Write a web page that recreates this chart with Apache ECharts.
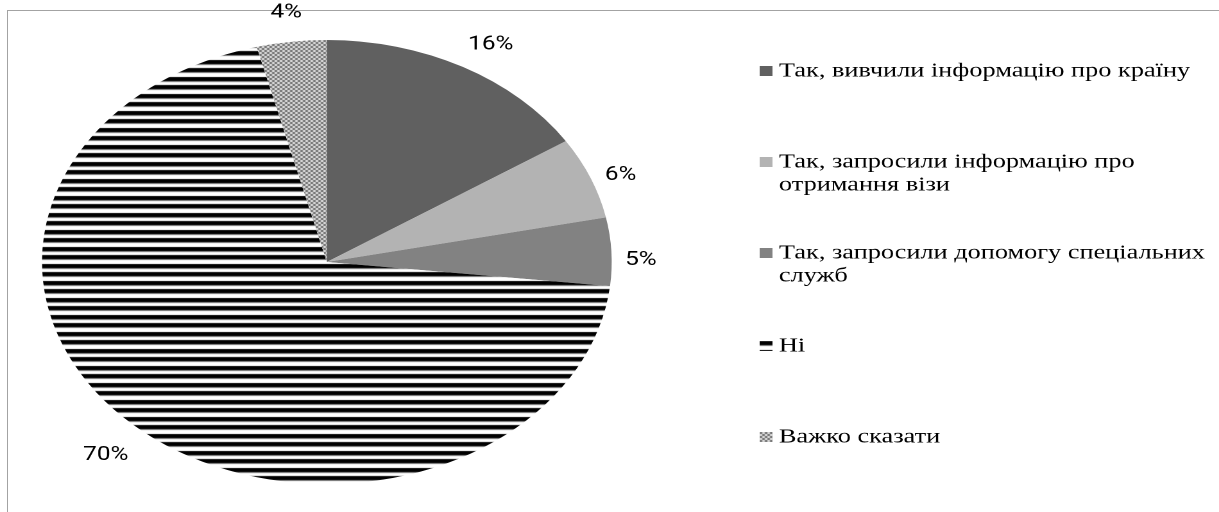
<!DOCTYPE html>
<html><head><meta charset="utf-8">
<script src="https://cdn.jsdelivr.net/npm/echarts@6/dist/echarts.min.js"></script>
<style>
html,body{margin:0;padding:0;background:#fff;width:1219px;height:512px;overflow:hidden;}
#frame{position:absolute;left:7px;top:10px;width:1240px;height:540px;border:1px solid #a3a3a3;}
#chart{position:absolute;left:0;top:0;width:950px;height:512px;transform:scaleX(1.2832);transform-origin:0 0;}
</style></head><body>
<div id="frame"></div><div id="chart"></div>
<script>
// ---- data ----
const categories = [
  'Так, вивчили інформацію про країну',
  'Так, запросили інформацію про\nотримання візи',
  'Так, запросили допомогу спеціальних\nслужб',
  'Ні',
  'Важко сказати'
];
const values = [16, 6, 5, 70, 4];

// ---- styles / layout ----
function stripePattern() {
  const c = document.createElement('canvas'); c.width = 4; c.height = 17;
  const g = c.getContext('2d');
  g.fillStyle = '#fff'; g.fillRect(0, 0, 4, 17);
  g.fillStyle = '#000'; g.fillRect(0, 0, 4, 4); g.fillRect(0, 9, 4, 4);
  g.fillStyle = '#808080'; g.fillRect(0, 4, 4, 1); g.fillRect(0, 13, 4, 1);
  return { image: c, repeat: 'repeat' };
}
function checkPattern() {
  const c = document.createElement('canvas'); c.width = 4; c.height = 4;
  const g = c.getContext('2d');
  g.fillStyle = '#e4e4e4'; g.fillRect(0, 0, 4, 4);
  g.fillStyle = '#6a6a6a'; g.fillRect(0, 0, 2, 2); g.fillRect(2, 2, 2, 2);
  return { image: c, repeat: 'repeat' };
}
const fills = ['#606060', '#b3b3b3', '#828282', stripePattern(), checkPattern()];
const center = [254.7, 262];
const R = 222;
const labelFont = '"Liberation Sans Narrow", Roboto, sans-serif';
const legendFont = '"Liberation Serif", "Times New Roman", serif';
const legendCenters = [71, 162, 253, 346, 437];
const lineH = 23;
const labelShift = { 0: [6, 7], 1: [-7, 10], 2: [-10, 10], 3: [-5, 1], 4: [0, 4] };

const chart = echarts.init(document.getElementById('chart'), null, { devicePixelRatio: 2, renderer: 'canvas' });

const legendText = n => (n.indexOf('\n') >= 0 ? '\n' + n : n);
const legends = categories.map((name, i) => {
  const lines = legendText(name).split('\n').length;
  return {
    orient: 'vertical', left: 592, top: legendCenters[i] - lines * lineH / 2,
    padding: 0, itemWidth: 10, itemHeight: 10, selectedMode: false,
    icon: 'rect', data: [name], formatter: legendText,
    textStyle: { fontFamily: legendFont, fontSize: 20.5, color: '#000', lineHeight: lineH }
  };
});

const pieData = categories.map((name, i) => ({ name, value: values[i], itemStyle: { color: fills[i] } }));

chart.setOption({
  animation: false,
  legend: legends,
  series: [
    {
      type: 'pie', center, radius: R, startAngle: 90, clockwise: true,
      silent: true, label: { show: false }, labelLine: { show: false },
      itemStyle: { borderWidth: 0 }, emphasis: { disabled: true },
      data: pieData
    },
    {
      type: 'pie', center, radius: [240, 264], startAngle: 90, clockwise: true,
      silent: true, avoidLabelOverlap: false, emphasis: { disabled: true },
      itemStyle: { color: 'rgba(0,0,0,0)', borderWidth: 0 },
      labelLine: { show: false },
      label: { show: true, position: 'inside', formatter: p => p.value + '%',
               fontFamily: labelFont, fontSize: 19, color: '#000' },
      labelLayout: p => { const s = labelShift[p.dataIndex]; return s ? { dx: s[0], dy: s[1] } : {}; },
      data: categories.map((name, i) => ({ name, value: values[i] }))
    }
  ]
});
</script>
</body></html>
